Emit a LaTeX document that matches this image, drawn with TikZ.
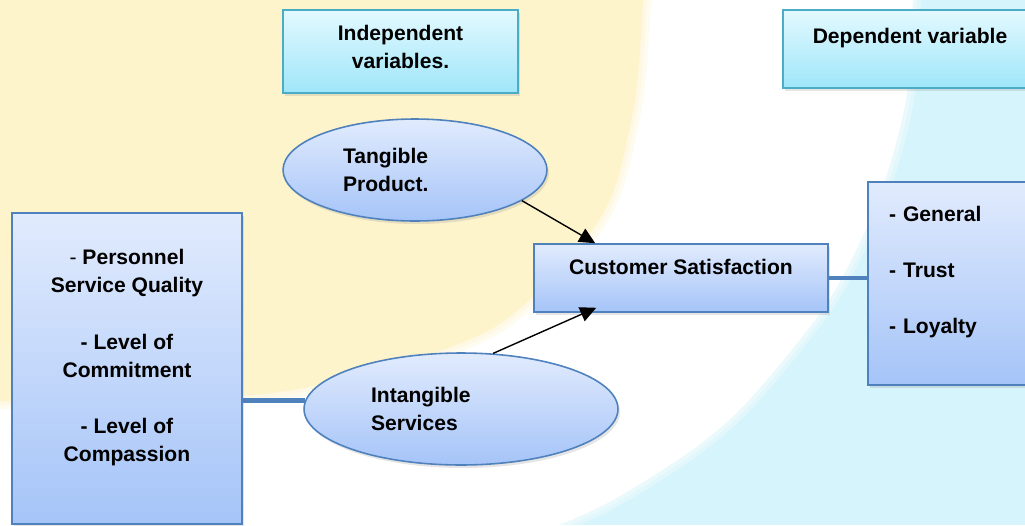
\documentclass[tikz,border=0pt]{standalone}
\usepackage{fontspec}
\setmainfont{Liberation Sans}
\usetikzlibrary{arrows.meta,shapes.geometric,shadows}
\definecolor{bgyellow}{HTML}{FEF4CC}
\definecolor{bgcyan}{HTML}{D6F4FB}
\definecolor{boxline}{HTML}{4F81BD}
\definecolor{tealline}{HTML}{4BACC6}
\definecolor{bluetop}{HTML}{E1EBFD}
\definecolor{bluebot}{HTML}{A5C4F8}
\definecolor{tealtop}{HTML}{E3F9FF}
\definecolor{tealbot}{HTML}{9FE6F9}
\begin{document}
\begin{tikzpicture}[
  x=0.02cm, y=-0.02cm,
  every node/.style={font=\fontsize{12}{16}\selectfont\bfseries, text=black},
  softshadow/.style={drop shadow={shadow xshift=0.04cm, shadow yshift=-0.06cm, opacity=0.2}},
  headbox/.style={softshadow, draw=tealline, line width=0.9pt, top color=tealtop, bottom color=tealbot, align=center},
  itembox/.style={softshadow, draw=boxline, line width=0.9pt, top color=bluetop, bottom color=bluebot},
  oval/.style={itembox, ellipse, inner sep=0pt, align=left},
  link/.style={draw=boxline, line width=2.8pt},
  arr/.style={-{Triangle[length=0.32cm, width=0.3cm]}, line width=0.8pt}
]
  \useasboundingbox (0,0) rectangle (1025,525);
  % background
  \fill[bgcyan] (0,0) rectangle (1025,525);
  \path[fill=white, preaction={draw=white, draw opacity=0.3, line width=0.32cm}, preaction={draw=white, draw opacity=0.3, line width=0.16cm}]
    plot[smooth] coordinates {(913,-10) (913,0) (906,100) (878,200) (829,300) (749,400) (692,450) (613,500) (559,525) (530,535)} -- (-10,535) -- (-10,-10) -- cycle;
  \path[fill=bgyellow, preaction={draw=bgyellow, draw opacity=0.3, line width=0.32cm}, preaction={draw=bgyellow, draw opacity=0.3, line width=0.16cm}]
    plot[smooth] coordinates {(-10,401) (150,400) (280,392) (400,364) (493,328) (560,270) (610,200) (635,100) (643,0) (643,-10)} -- (-10,-10) -- cycle;
  % variables
  \node[headbox, minimum width=4.7cm, minimum height=1.66cm] (iv) at (400.5,51.5) {Independent\\variables.\\[-16pt]\strut};
  \node[headbox, minimum width=5.08cm, minimum height=1.56cm] (dv) at (910,49) {Dependent variable\\[-6pt]\strut};
  \node[oval, minimum width=5.28cm, minimum height=2.04cm, text width=2.88cm] (tang) at (415,170) {Tangible\\Product.};
  \node[oval, minimum width=6.28cm, minimum height=2.24cm, text width=3.6cm] (intang) at (461,409) {Intangible\\Services};
  \node[itembox, minimum width=5.88cm, minimum height=1.36cm, align=center] (cs) at (681,278) {Customer Satisfaction\\[-8pt]\strut};
  \node[itembox, minimum width=4.6cm, minimum height=6.22cm, align=center] (serv) at (127,368.5) {\textmd{-} Personnel\\Service Quality\\[\baselineskip]- Level of\\Commitment\\[\baselineskip]- Level of\\Compassion\\[-6pt]\strut};
  \node[itembox, minimum width=3.6cm, minimum height=4.06cm, text width=2.76cm, inner xsep=0.42cm, align=left] (sat) at (958,283.5) {- General\\[\baselineskip]- Trust\\[\baselineskip]- Loyalty\\[-5pt]\strut};
  % connectors
  \draw[link] (cs.east) -- (cs.east -| sat.west);
  \draw[link] (intang.177) -- (intang.177 -| serv.east);
  \draw[arr] (tang.-16) -- ([xshift=1.24cm]cs.north west);
  \draw[arr] (intang.60) -- ([xshift=1.26cm, yshift=0.1cm]cs.south west);
\end{tikzpicture}
\end{document}
